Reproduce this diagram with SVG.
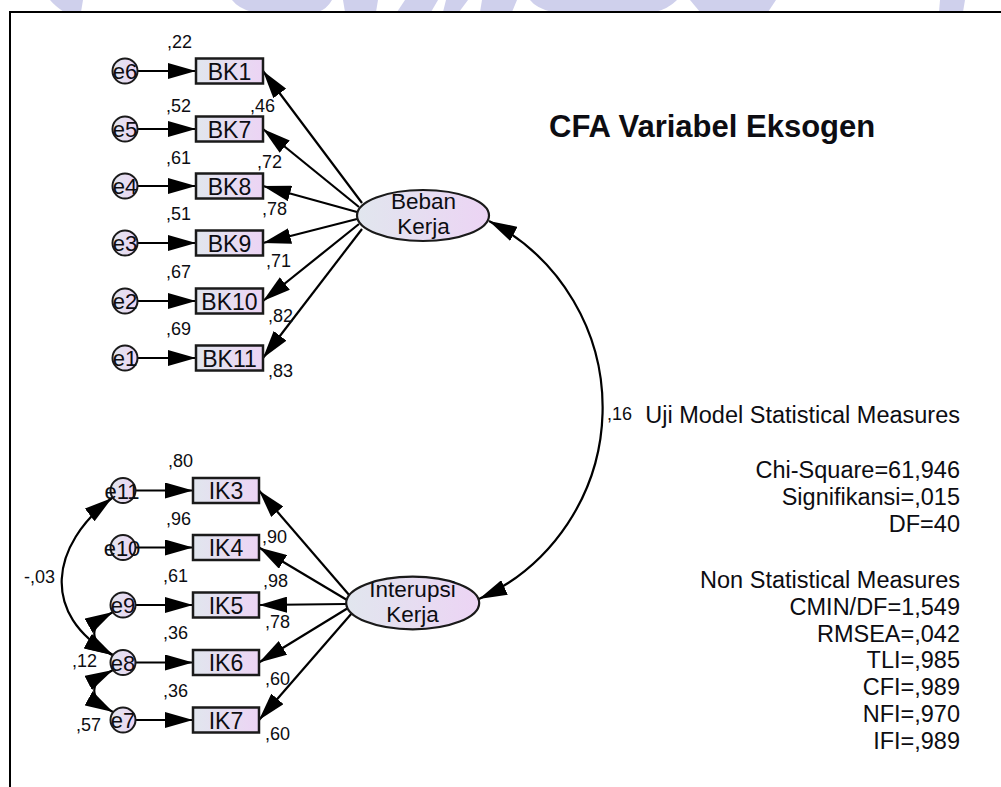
<svg xmlns="http://www.w3.org/2000/svg" width="1001" height="787" viewBox="0 0 1001 787">
  <defs>
    <linearGradient id="pastel" x1="0" y1="0" x2="1" y2="0">
      <stop offset="0" stop-color="#e1e6ee"/>
      <stop offset="1" stop-color="#ecd4f4"/>
    </linearGradient>
    <marker id="head" viewBox="0 0 28 16" refX="28" refY="8" markerWidth="28" markerHeight="16" markerUnits="userSpaceOnUse" orient="auto-start-reverse">
      <path d="M0,0 L28,8 L0,16 z" fill="#000"/>
    </marker>
  </defs>
  <style>
    .box{fill:url(#pastel);stroke:#1a1a1a;stroke-width:2.5}
    .err{fill:url(#pastel);stroke:#1a1a1a;stroke-width:2}
    .lat{fill:url(#pastel);stroke:#1a1a1a;stroke-width:2.2}
    .t{font-family:"Liberation Sans",Arial,sans-serif;fill:#0d0d12}
    .obs{font-size:23px;text-anchor:middle}
    .el{font-size:22px;text-anchor:middle}
    .lv{font-size:22.5px;text-anchor:middle}
    .num{font-size:18px}
    .fit{font-size:23.5px;text-anchor:end}
    .title{font-size:31px;font-weight:bold}
    .arr{fill:none;stroke:#000;stroke-width:2.2;marker-end:url(#head)}
    .cov{fill:none;stroke:#000;stroke-width:2.2;marker-start:url(#head);marker-end:url(#head)}
    .wm{fill:#cfd0ec}
  </style>

  <rect width="1001" height="787" fill="#fff"/>

  <!-- faint background shapes above the frame -->
  <g id="backdrop" class="wm">
    <path d="M50,0 L83,0 L81,12 L64,12 Q55,6 50,0 z"/>
    <path d="M232,0 L332,0 Q327,9 318,12 L252,12 Q238,8 232,0 z"/>
    <path d="M343,0 L378,0 L376,12 L345,12 z"/>
    <path d="M405,0 L438,0 L431,12 L397,12 z"/>
    <path d="M446,0 L468,0 L459,12 L443,12 z"/>
    <path d="M482,0 L517,0 L512,12 L480,12 z"/>
    <path d="M530,0 L677,0 Q668,9 655,12 L552,12 Q536,8 530,0 z"/>
    <path d="M690,0 L776,0 L768,12 L700,12 z"/>
    <path d="M940,0 L965,0 L963,12 L939,12 z"/>
  </g>

  <!-- frame -->
  <path d="M10,787 V12 H1001" fill="none" stroke="#000" stroke-width="2"/>

  <!-- connectors -->
  <g id="connectors">
    <!-- error terms to indicators -->
    <path class="arr" d="M137.5,71 L196,71"/>
    <path class="arr" d="M137.5,129 L196,129"/>
    <path class="arr" d="M137.5,186 L196,186"/>
    <path class="arr" d="M137.5,243 L196,243"/>
    <path class="arr" d="M137.5,301 L196,301"/>
    <path class="arr" d="M137.5,358 L196,358"/>
    <path class="arr" d="M135.5,490.5 L193,490.5"/>
    <path class="arr" d="M135.5,547.5 L193,547.5"/>
    <path class="arr" d="M135.5,605 L193,605"/>
    <path class="arr" d="M135.5,662.5 L193,662.5"/>
    <path class="arr" d="M135.5,720 L193,720"/>
    <!-- Beban Kerja loadings -->
    <path class="arr" d="M362,203 L263,71"/>
    <path class="arr" d="M359,207 L263,129"/>
    <path class="arr" d="M357,212 L263,186"/>
    <path class="arr" d="M357,219 L263,243"/>
    <path class="arr" d="M359,224 L263,301"/>
    <path class="arr" d="M362,229 L263,358"/>
    <!-- Interupsi Kerja loadings -->
    <path class="arr" d="M350,596 L259,490.5"/>
    <path class="arr" d="M347,600 L259,547.5"/>
    <path class="arr" d="M346,604 L259,605"/>
    <path class="arr" d="M348,608 L259,662.5"/>
    <path class="arr" d="M352,613 L259,720"/>
    <!-- covariances -->
    <path class="cov" d="M489,221 A210 210 0 0 1 479,599"/>
    <path class="cov" d="M112,498 C50,545 40,615 112,655"/>
    <path class="cov" d="M113,612 C88,626 88,641 113,655"/>
    <path class="cov" d="M113,670 C88,683 88,698 113,712"/>
  </g>

  <!-- Beban Kerja measurement model -->
  <g id="e6"><circle class="err" cx="125" cy="71" r="12.5"/><text class="t el" x="125" y="79">e6</text></g>
  <g id="e5"><circle class="err" cx="125" cy="129" r="12.5"/><text class="t el" x="125" y="137">e5</text></g>
  <g id="e4"><circle class="err" cx="125" cy="186" r="12.5"/><text class="t el" x="125" y="194">e4</text></g>
  <g id="e3"><circle class="err" cx="125" cy="243" r="12.5"/><text class="t el" x="125" y="251">e3</text></g>
  <g id="e2"><circle class="err" cx="125" cy="301" r="12.5"/><text class="t el" x="125" y="309">e2</text></g>
  <g id="e1"><circle class="err" cx="125" cy="358" r="12.5"/><text class="t el" x="125" y="366">e1</text></g>

  <g id="BK1"><rect class="box" x="196" y="58.5" width="67" height="25"/><text class="t obs" x="229.5" y="79.5">BK1</text></g>
  <g id="BK7"><rect class="box" x="196" y="116.5" width="67" height="25"/><text class="t obs" x="229.5" y="137.5">BK7</text></g>
  <g id="BK8"><rect class="box" x="196" y="173.5" width="67" height="25"/><text class="t obs" x="229.5" y="194.5">BK8</text></g>
  <g id="BK9"><rect class="box" x="196" y="230.5" width="67" height="25"/><text class="t obs" x="229.5" y="251.5">BK9</text></g>
  <g id="BK10"><rect class="box" x="196" y="288.5" width="67" height="25"/><text class="t obs" x="229.5" y="309.5">BK10</text></g>
  <g id="BK11"><rect class="box" x="196" y="345.5" width="67" height="25"/><text class="t obs" x="229.5" y="366.5">BK11</text></g>

  <g id="BebanKerja">
    <ellipse class="lat" cx="423" cy="215.5" rx="66" ry="25.5"/>
    <text class="t lv" x="423.5" y="209">Beban</text>
    <text class="t lv" x="423.5" y="234">Kerja</text>
  </g>

  <!-- Interupsi Kerja measurement model -->
  <g id="e11"><circle class="err" cx="123" cy="490.5" r="12.5"/><text class="t el" x="122" y="498.5">e11</text></g>
  <g id="e10"><circle class="err" cx="123" cy="547.5" r="12.5"/><text class="t el" x="122" y="555.5">e10</text></g>
  <g id="e9"><circle class="err" cx="123" cy="605" r="12.5"/><text class="t el" x="123" y="613">e9</text></g>
  <g id="e8"><circle class="err" cx="123" cy="662.5" r="12.5"/><text class="t el" x="123" y="670.5">e8</text></g>
  <g id="e7"><circle class="err" cx="123" cy="720" r="12.5"/><text class="t el" x="123" y="728">e7</text></g>

  <g id="IK3"><rect class="box" x="193" y="478" width="66" height="25"/><text class="t obs" x="226" y="499">IK3</text></g>
  <g id="IK4"><rect class="box" x="193" y="535" width="66" height="25"/><text class="t obs" x="226" y="556">IK4</text></g>
  <g id="IK5"><rect class="box" x="193" y="592.5" width="66" height="25"/><text class="t obs" x="226" y="613.5">IK5</text></g>
  <g id="IK6"><rect class="box" x="193" y="650" width="66" height="25"/><text class="t obs" x="226" y="671">IK6</text></g>
  <g id="IK7"><rect class="box" x="193" y="707.5" width="66" height="25"/><text class="t obs" x="226" y="728.5">IK7</text></g>

  <g id="InterupsiKerja">
    <ellipse class="lat" cx="412.7" cy="603" rx="66.5" ry="26.3"/>
    <text class="t lv" x="412.5" y="597">Interupsi</text>
    <text class="t lv" x="412.5" y="622">Kerja</text>
  </g>

  <!-- estimates -->
  <g id="estimates" class="t num">
    <text x="167" y="48">,22</text>
    <text x="166" y="112">,52</text>
    <text x="166" y="164">,61</text>
    <text x="166" y="220">,51</text>
    <text x="166" y="278">,67</text>
    <text x="166" y="335">,69</text>
    <text x="250" y="112">,46</text>
    <text x="257" y="168">,72</text>
    <text x="262" y="215">,78</text>
    <text x="266" y="267">,71</text>
    <text x="268" y="322">,82</text>
    <text x="268" y="377">,83</text>
    <text x="168" y="467">,80</text>
    <text x="166" y="525">,96</text>
    <text x="163" y="582">,61</text>
    <text x="163" y="639">,36</text>
    <text x="163" y="697">,36</text>
    <text x="262" y="543">,90</text>
    <text x="263" y="587">,98</text>
    <text x="265" y="628">,78</text>
    <text x="265" y="685">,60</text>
    <text x="265" y="740">,60</text>
    <text x="24" y="583">-,03</text>
    <text x="72" y="667">,12</text>
    <text x="76" y="731">,57</text>
    <text x="607" y="420">,16</text>
  </g>

  <!-- title and fit summary -->
  <text class="t title" x="549" y="137">CFA Variabel Eksogen</text>
  <g id="fit" class="t fit">
    <text x="960" y="423">Uji Model Statistical Measures</text>
    <text x="960" y="478">Chi-Square=61,946</text>
    <text x="960" y="505">Signifikansi=,015</text>
    <text x="960" y="532">DF=40</text>
    <text x="960" y="588">Non Statistical Measures</text>
    <text x="960" y="615">CMIN/DF=1,549</text>
    <text x="960" y="642">RMSEA=,042</text>
    <text x="960" y="668">TLI=,985</text>
    <text x="960" y="695">CFI=,989</text>
    <text x="960" y="722">NFI=,970</text>
    <text x="960" y="749">IFI=,989</text>
  </g>
</svg>
